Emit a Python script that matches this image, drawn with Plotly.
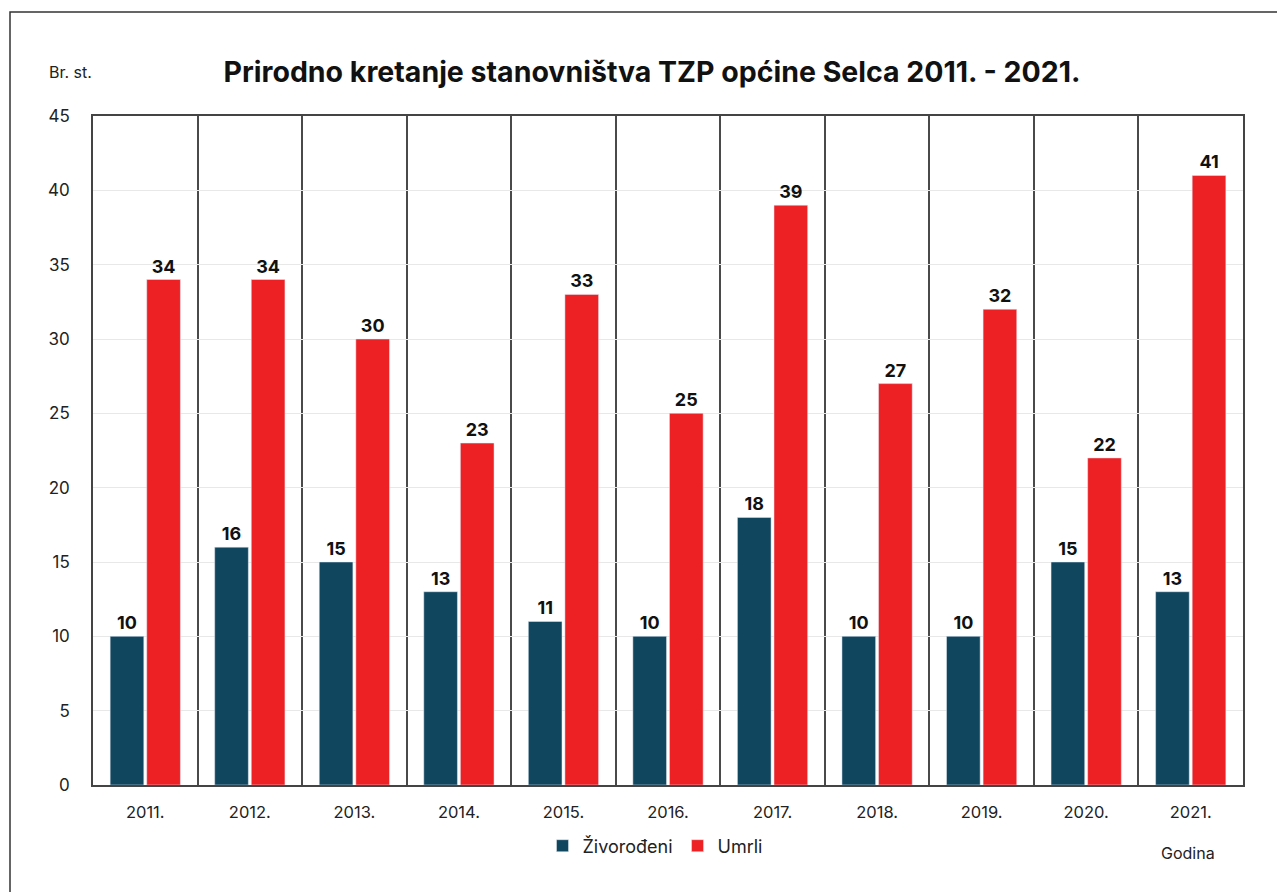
import plotly.graph_objects as go

years = ["2011.", "2012.", "2013.", "2014.", "2015.", "2016.", "2017.", "2018.", "2019.", "2020.", "2021."]
zivorodeni = [10, 16, 15, 13, 11, 10, 18, 10, 10, 15, 13]
umrli = [34, 34, 30, 23, 33, 25, 39, 27, 32, 22, 41]

BLUE = "#11465f"
RED = "#ed2024"
FONT = "Inter"

# page offset (body margin) compensation
OFF = 8
W, H = 1285 - OFF, 892 - OFF
L, T = 93 - OFF, 116 - OFF
R = W - (1243 - OFF)
B = H - (785 - OFF)
pw, ph = W - L - R, H - T - B


def px_x(p):
    return (p - OFF - L) / pw


def px_y(p):
    return (H - B - (p - OFF)) / ph


label_font = dict(family=FONT, size=18, color="#111111")

fig = go.Figure()
fig.add_trace(go.Bar(x=years, y=zivorodeni, name="Živorođeni", marker_color=BLUE,
                     text=[f"<b>{v}</b>" for v in zivorodeni], textposition="outside",
                     cliponaxis=False, textfont=label_font))
fig.add_trace(go.Bar(x=years, y=umrli, name="Umrli", marker_color=RED,
                     text=[f"<b>{v}</b>" for v in umrli], textposition="outside",
                     cliponaxis=False, textfont=label_font))

fig.update_layout(
    width=W, height=H,
    margin=dict(l=L, r=R, t=T, b=B),
    paper_bgcolor="white", plot_bgcolor="white",
    barmode="group", bargap=0.3, bargroupgap=0.08,
    font=dict(family=FONT, size=16, color="#222222"),
    showlegend=True,
    legend=dict(orientation="h", x=px_x(655), xanchor="center", y=px_y(846), yanchor="middle",
                font=dict(family=FONT, size=18, color="#222222"),
                traceorder="normal"),
    uniformtext=dict(mode=False),
    title=dict(text="<b>Prirodno kretanje stanovništva TZP općine Selca 2011. - 2021.</b>",
               x=(652 - OFF) / W, xanchor="center", y=1 - (72 - OFF) / H, yanchor="middle",
               font=dict(family=FONT, size=28.5, color="#111111")),
    xaxis=dict(tickson="boundaries", showgrid=True, gridcolor="#4a4a4a", gridwidth=1.5,
               showline=True, linecolor="#444444", linewidth=1.6, mirror=True,
               ticks="", ticklabelstandoff=11,
               tickfont=dict(family=FONT, size=16.5, color="#222222")),
    yaxis=dict(range=[0, 45], dtick=5, showgrid=True, gridcolor="#e8e8e8", gridwidth=1,
               showline=True, linecolor="#444444", linewidth=1.6, mirror=True,
               ticks="", ticklabelstandoff=18,
               tickfont=dict(family=FONT, size=17, color="#222222"), zeroline=False),
    annotations=[
        dict(text="Br. st.", xref="paper", yref="paper", x=px_x(47), y=px_y(72),
             xanchor="left", yanchor="middle", showarrow=False,
             font=dict(family=FONT, size=16, color="#222222")),
        dict(text="Godina", xref="paper", yref="paper", x=px_x(1188), y=px_y(853),
             xanchor="center", yanchor="middle", showarrow=False,
             font=dict(family=FONT, size=16, color="#222222")),
    ],
    shapes=[
        dict(type="rect", xref="paper", yref="paper",
             x0=px_x(10), x1=px_x(1283), y0=px_y(12), y1=px_y(900),
             line=dict(color="#333333", width=1.5), fillcolor="rgba(0,0,0,0)", layer="below"),
    ],
)

fig.write_html("out.html")
